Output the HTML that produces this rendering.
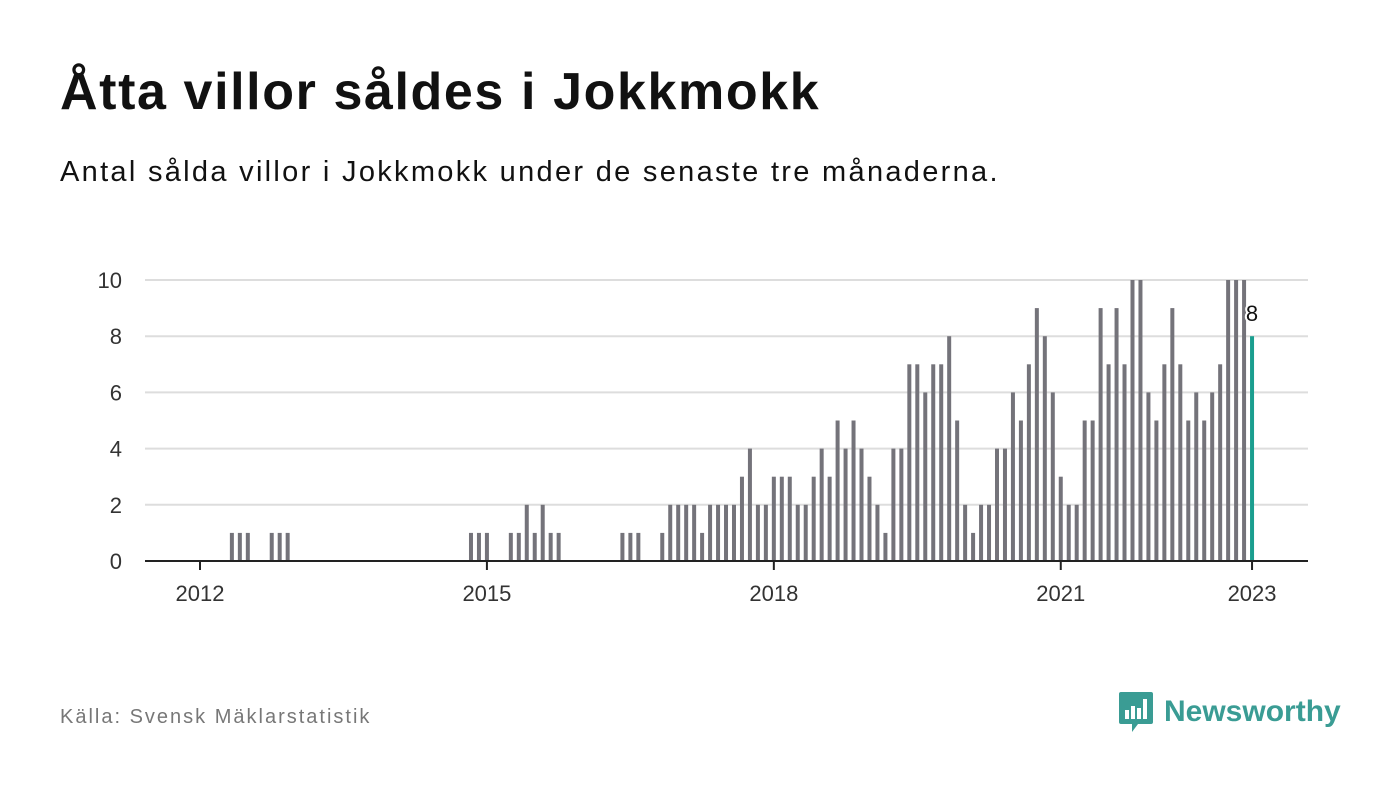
<!DOCTYPE html>
<html><head><meta charset="utf-8"><style>
body{margin:0;width:1400px;height:794px;background:#fff;font-family:"Liberation Sans",sans-serif;overflow:hidden;position:relative}
h1{position:absolute;left:60px;top:62px;margin:0;font-size:52px;font-weight:bold;color:#111;letter-spacing:1.6px}
.sub{position:absolute;left:60px;top:156px;font-size:29px;color:#111;letter-spacing:2.3px}
.src{position:absolute;left:60px;top:706px;font-size:20px;color:#777;letter-spacing:2px}
.logo{position:absolute;left:1118px;top:690px;display:flex;align-items:center}
.logo span{font-size:30px;font-weight:bold;color:#3a9c94;margin-left:10px}
</style></head><body>
<h1>Åtta villor såldes i Jokkmokk</h1>
<div class="sub">Antal sålda villor i Jokkmokk under de senaste tre månaderna.</div>
<svg id="chart" width="1400" height="794" style="position:absolute;left:0;top:0"></svg>
<div class="src">Källa: Svensk Mäklarstatistik</div>
<div class="logo">
<svg width="36" height="44" viewBox="0 0 36 44"><path d="M3 2h30a2 2 0 0 1 2 2v28a2 2 0 0 1-2 2H20l-6 8v-8H3a2 2 0 0 1-2-2V4a2 2 0 0 1 2-2z" fill="#3a9c94"/><rect x="7" y="20" width="4" height="9" fill="#fff"/><rect x="13" y="16" width="4" height="13" fill="#fff"/><rect x="19" y="18" width="4" height="11" fill="#fff"/><rect x="25" y="9" width="4" height="20" fill="#fff"/></svg>
<span>Newsworthy</span></div>
<script>
const startYear = 2012;
const values = [0,0,0,0,1,1,1,0,0,1,1,1,
0,0,0,0,0,0,0,0,0,0,0,0,0,0,0,0,0,0,0,0,0,0,
1,1,1,0,0,1,1,2,1,2,1,1,0,0,0,0,0,0,0,1,1,1,0,0,
1,2,2,2,2,1,2,2,2,2,3,4,2,2,3,3,3,2,2,3,4,3,5,4,5,4,3,2,1,4,4,7,7,6,7,7,8,5,2,1,
2,2,4,4,6,5,7,9,8,6,3,2,2,5,5,9,7,9,7,10,10,6,5,7,9,7,5,6,5,6,7,10,10,10,8];
const yTicks = [0,2,4,6,8,10];
const xTickYears = [2012,2015,2018,2021,2023];
const NS="http://www.w3.org/2000/svg";
const svg=document.getElementById('chart');
const x0=200, pxPerMonth=7.97, y0=561, pxPerUnit=28.1;
const xs=m=>x0+m*pxPerMonth;
const ys=v=>y0-v*pxPerUnit;
function mk(t,a){const e=document.createElementNS(NS,t);for(const k in a)e.setAttribute(k,a[k]);svg.appendChild(e);return e;}
yTicks.forEach(v=>{
  if(v>0){const g=mk('line',{x1:145,x2:1308,y1:ys(v),y2:ys(v),stroke:'#ddd','stroke-width':2});
  
  }
  const t=mk('text',{x:122,y:ys(v)+8,'text-anchor':'end','font-size':22,fill:'#333','font-family':'Liberation Sans, sans-serif'});
  t.textContent=v;
  
  
});
values.forEach((v,i)=>{
  if(v<=0)return;
  const last=i===values.length-1;
  const r=mk('rect',{x:xs(i)-2,y:ys(v),width:4,height:v*pxPerUnit,fill:last?'#1a9e8f':'#74737a'});
  
  
});
const li=values.length-1;
const lbl=mk('text',{x:xs(li),y:ys(values[li])-15,'text-anchor':'middle','font-size':22,fill:'#111',stroke:'#fff','stroke-width':4,'paint-order':'stroke','font-family':'Liberation Sans, sans-serif'});
lbl.textContent=values[li];


const ax=mk('line',{x1:145,x2:1308,y1:y0,y2:y0,stroke:'#222','stroke-width':2});


xTickYears.forEach(yr=>{
  const x=xs((yr-startYear)*12);
  const tk=mk('line',{x1:x,x2:x,y1:y0,y2:y0+9,stroke:'#222','stroke-width':2});
  
  
  const t=mk('text',{x:x,y:601,'text-anchor':'middle','font-size':22,fill:'#333','font-family':'Liberation Sans, sans-serif'});
  t.textContent=yr;
  
  
});
</script>
</body></html>
